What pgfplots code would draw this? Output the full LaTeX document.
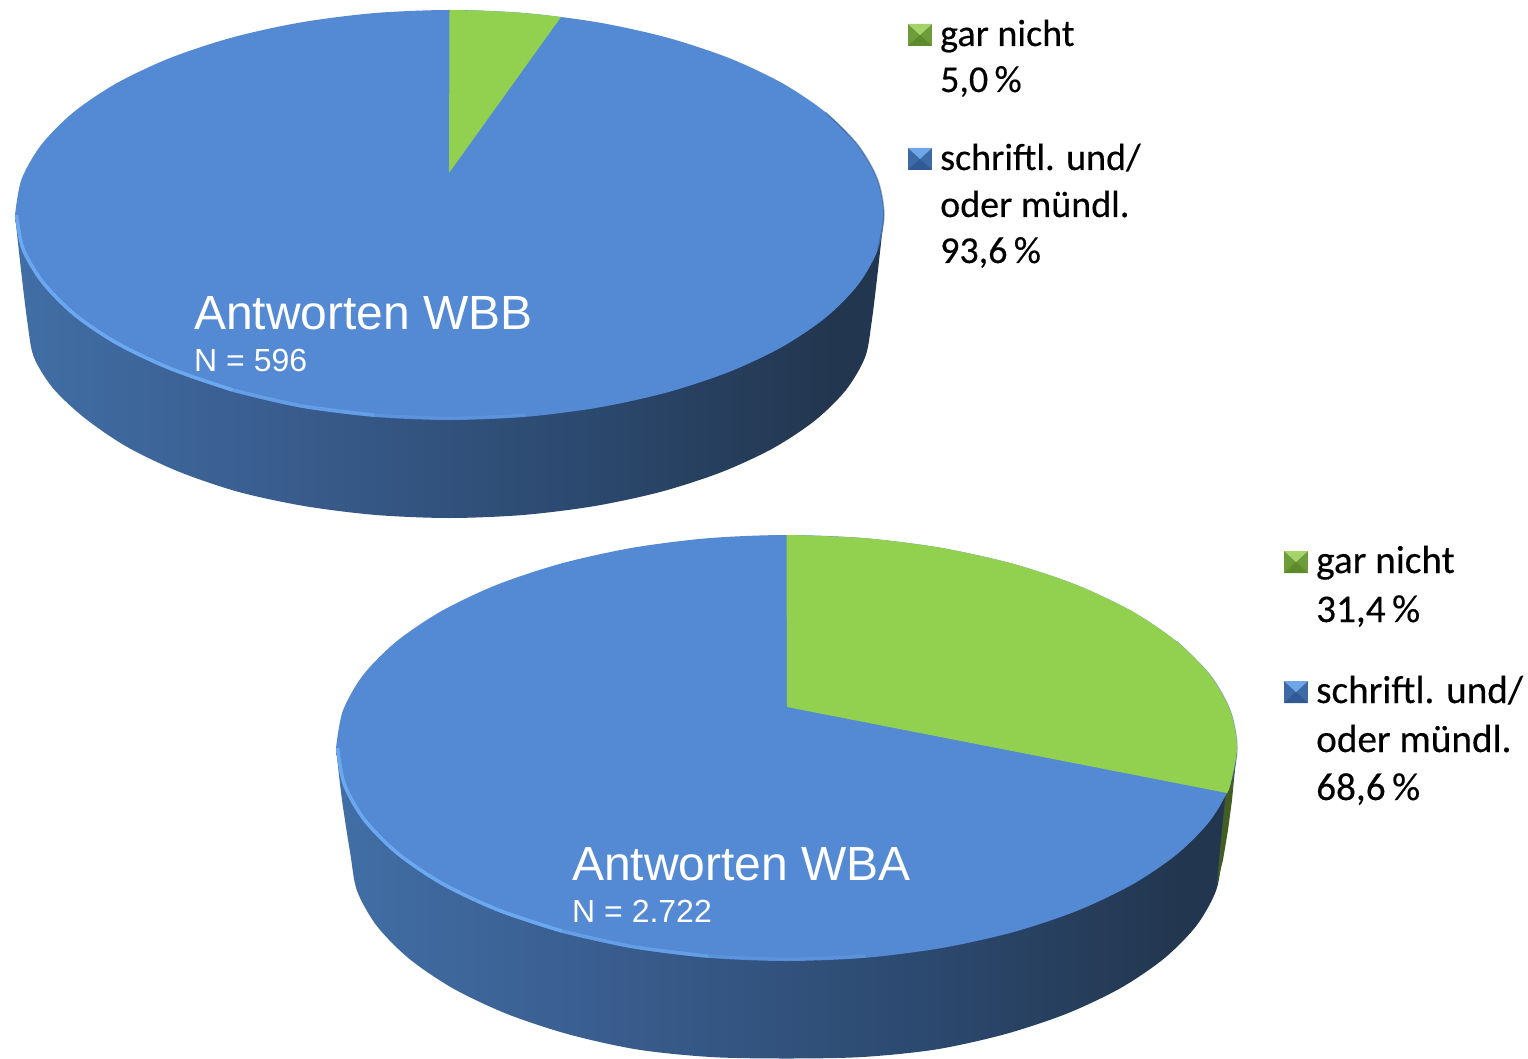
\documentclass[border=0pt]{standalone}
\usepackage{fontspec}
\setmainfont{Liberation Sans}
\newfontfamily\calib[FakeBold=0.3]{Carlito}
\usepackage{pgfplots}
\pgfplotsset{compat=1.18}
\definecolor{pieblue}{RGB}{84,137,211}
\definecolor{piegreen}{RGB}{146,208,80}
\definecolor{rimblue}{RGB}{108,168,240}
\definecolor{sc0}{RGB}{76,126,186}
\definecolor{sc1}{RGB}{66,114,170}
\definecolor{sc2}{RGB}{58,94,144}
\definecolor{sc3}{RGB}{44,74,112}
\definecolor{sc4}{RGB}{35,54,79}
\definecolor{gside}{RGB}{111,156,59}
\definecolor{gtop}{RGB}{165,213,106}
\definecolor{gbot}{RGB}{94,138,46}
\definecolor{bside}{RGB}{61,106,165}
\definecolor{btop}{RGB}{110,166,232}
\definecolor{bbot}{RGB}{47,90,150}
\pgfdeclarehorizontalshading{sideshade}{100bp}{color(0bp)=(sc0);color(5bp)=(sc0);color(22bp)=(sc1);color(39bp)=(sc2);color(57bp)=(sc3);color(72bp)=(sc4);color(100bp)=(sc4)}
\newcommand{\lab}[4]{\node[anchor=base west,inner sep=0pt,text=black] at (axis cs:#1,#2) {\calib\fontsize{#3}{#3}\selectfont #4};}
\newcommand{\white}[4]{\node[anchor=base west,inner sep=0pt,text=white] at (axis cs:#1,#2) {\fontsize{#3}{#3}\selectfont #4};}
\newcommand{\marker}[5]{%
 \fill[#3] (axis cs:#1,#2) rectangle (axis cs:#1+24,#2+22);
 \fill[#4] (axis cs:#1,#2) -- (axis cs:#1+24,#2) -- (axis cs:#1+12,#2+11) -- cycle;
 \fill[#5] (axis cs:#1,#2+22) -- (axis cs:#1+24,#2+22) -- (axis cs:#1+12,#2+11) -- cycle;
}
\begin{document}
\begin{tikzpicture}
\begin{axis}[x=1pt,y=1pt,y dir=reverse,xmin=0,xmax=1528,ymin=0,ymax=1059,hide axis,scale only axis]
% ---------- upper pie: side
\addplot[shading=sideshade,draw=none,smooth,forget plot] coordinates {
(15,215)(21,270)(27.5,323)(33.8,356.9)(52.8,388)(84,417.5)(126.2,446.4)(178.2,471.4)(238.5,491.9)(305.2,506.2)(376.1,515)(449.5,518)(522.9,515)(593.8,506.2)(660.5,491.9)(720.8,472.4)(772.8,448.4)(815,420.5)(846.2,389.7)(865.2,356.9)(871.5,323)(878,270)(884,215)};
% upper pie: top face (blue)
\addplot[fill=pieblue,draw=none,smooth,forget plot] coordinates {
(15,215)(21.5,179.4)(41.2,144.9)(73.2,112.5)(116.7,83.2)(170.1,58)(232.2,37.5)(300.9,22.4)(374.1,13.1)(449.5,10)(524.9,13.1)(598.1,22.4)(666.8,37.5)(728.9,58)(782.3,83.2)(825.8,112.5)(857.8,144.9)(877.5,179.4)(884,215)(877.5,250.6)(857.8,285.1)(825.8,317.5)(782.3,346.8)(728.9,372)(666.8,392.5)(598.1,407.6)(524.9,416.9)(449.5,420)(374.1,416.9)(300.9,407.6)(232.2,391.5)(170.1,370)(116.7,344.8)(73.2,315.5)(41.2,283.1)(21.5,249.6)(15,215)};
% upper pie: rim
\addplot[draw=rimblue,line width=3.5pt,smooth,forget plot] coordinates {(16.5,215)(23,248.6)(42.7,282.1)(74.7,314.5)(118.2,343.8)(171.6,369)(232.7,390)};
\addplot[draw=rimblue,opacity=.7,line width=3.5pt,smooth,forget plot] coordinates {(232.7,390)(300.9,405.8)(374.1,415.1)};
\addplot[draw=rimblue,opacity=.35,line width=3pt,smooth,forget plot] coordinates {(374.1,415.1)(449.5,418.2)(524.9,415.1)};
\addplot[draw=sc3,opacity=.4,line width=1.5pt,smooth,forget plot] coordinates {(825.8,112.5)(857.8,144.9)(877.5,179.4)(884,215)(877.5,250.6)};
% upper pie: green slice
\addplot[fill=piegreen,draw=none,forget plot] coordinates {(449,173)(449.5,10)(479.5,10.5)(509.5,12)(539.5,14.4)(561,17)};
% ---------- lower pie: side
\addplot[shading=sideshade,draw=none,smooth,forget plot] coordinates {
(336,748)(342,800)(350.5,855)(357.1,891)(376.7,925.8)(408.9,958.5)(452.5,988.1)(506.2,1013.6)(568.5,1034.3)(637.4,1049.5)(710.6,1057)(786.5,1058.5)(862.4,1057)(935.6,1049.5)(1004.5,1034.3)(1066.8,1013.6)(1120.5,988.1)(1164.1,958.5)(1196.3,925.8)(1215.9,891)(1222.5,855)(1231,800)(1237,748)};
% lower pie: dark green strip of the side
\addplot[fill=piegreen!45!black,draw=none,forget plot] coordinates {(1226,790)(1237,748)(1232,800)(1228,830)(1223,860)(1217,884)(1220,850)};
% lower pie: top face (blue)
\addplot[fill=pieblue,draw=none,smooth,forget plot] coordinates {
(336,748)(342.8,711)(363,675.2)(396.4,641.5)(441.4,611.1)(496.9,584.8)(561.2,563.5)(632.4,547.8)(708.1,538.2)(786.5,535)(864.9,538.2)(940.6,547.8)(1011.8,563.5)(1076.1,584.8)(1131.6,611.1)(1176.6,641.5)(1210,675.2)(1230.2,711)(1237,748)(1230.2,785)(1210,820.8)(1176.6,854.5)(1131.6,884.9)(1076.1,911.2)(1011.8,932.5)(940.6,948.2)(864.9,957.8)(786.5,961)(708.1,957.8)(632.4,948.2)(561.2,932.5)(496.9,911.2)(441.4,884.9)(396.4,854.5)(363,820.8)(342.8,785)(336,748)};
% lower pie: rim
\addplot[draw=rimblue,line width=3.5pt,smooth,forget plot] coordinates {(337.5,748)(344.3,784)(364.5,819.8)(397.9,853.5)(442.9,883.9)(498.4,910)(561.7,931)};
\addplot[draw=rimblue,opacity=.7,line width=3.5pt,smooth,forget plot] coordinates {(561.7,931)(632.4,946.6)(708.1,956.2)};
\addplot[draw=rimblue,opacity=.35,line width=3pt,smooth,forget plot] coordinates {(708.1,956.2)(786.5,959.2)(864.9,956.2)};
\addplot[draw=sc3,opacity=.4,line width=1.5pt,smooth,forget plot] coordinates {(1176.6,641.5)(1210,675.2)(1230.2,711)(1237,748)(1231,785)};
% lower pie: green slice
\addplot[fill=piegreen,draw=none,forget plot] coordinates {(787,707)(786.5,535)(864.9,538.2)(940.6,547.8)(1011.8,563.5)(1076.1,584.8)(1131.6,611.1)(1176.6,641.5)(1210,675.2)(1230.2,711)(1237,748)(1230.2,785)(1227,793)};
\addplot[fill=piegreen,draw=none,smooth,forget plot] coordinates {(786.5,535)(864.9,538.2)(940.6,547.8)(1011.8,563.5)(1076.1,584.8)(1131.6,611.1)(1176.6,641.5)(1210,675.2)(1230.2,711)(1237,748)(1230.2,785)(1227,793)};
% ---------- legends
\marker{908}{24}{gside}{gtop}{gbot}
\marker{908}{148}{bside}{btop}{bbot}
\marker{1284}{551}{gside}{gtop}{gbot}
\marker{1284}{681}{bside}{btop}{bbot}
\lab{940}{46}{38}{gar nicht}
\lab{940}{92}{38}{5,0\,\%}
\lab{940}{170}{38}{schriftl. und/}
\lab{940}{217}{38}{oder mündl.}
\lab{940}{263}{38}{93,6\,\%}
\lab{1316}{573}{39.2}{gar nicht}
\lab{1316}{622}{39.2}{31,4\,\%}
\lab{1316}{703}{39.2}{schriftl. und/}
\lab{1316}{752}{39.2}{oder mündl.}
\lab{1316}{800}{39.2}{68,6\,\%}
\white{194}{329}{48}{Antworten WBB}
\white{194}{371}{32}{N = 596}
\white{572}{880}{48}{Antworten WBA}
\white{572}{922}{32}{N = 2.722}
\path (axis cs:0,0) rectangle (axis cs:1528,1059);
\end{axis}
\end{tikzpicture}
\end{document}
